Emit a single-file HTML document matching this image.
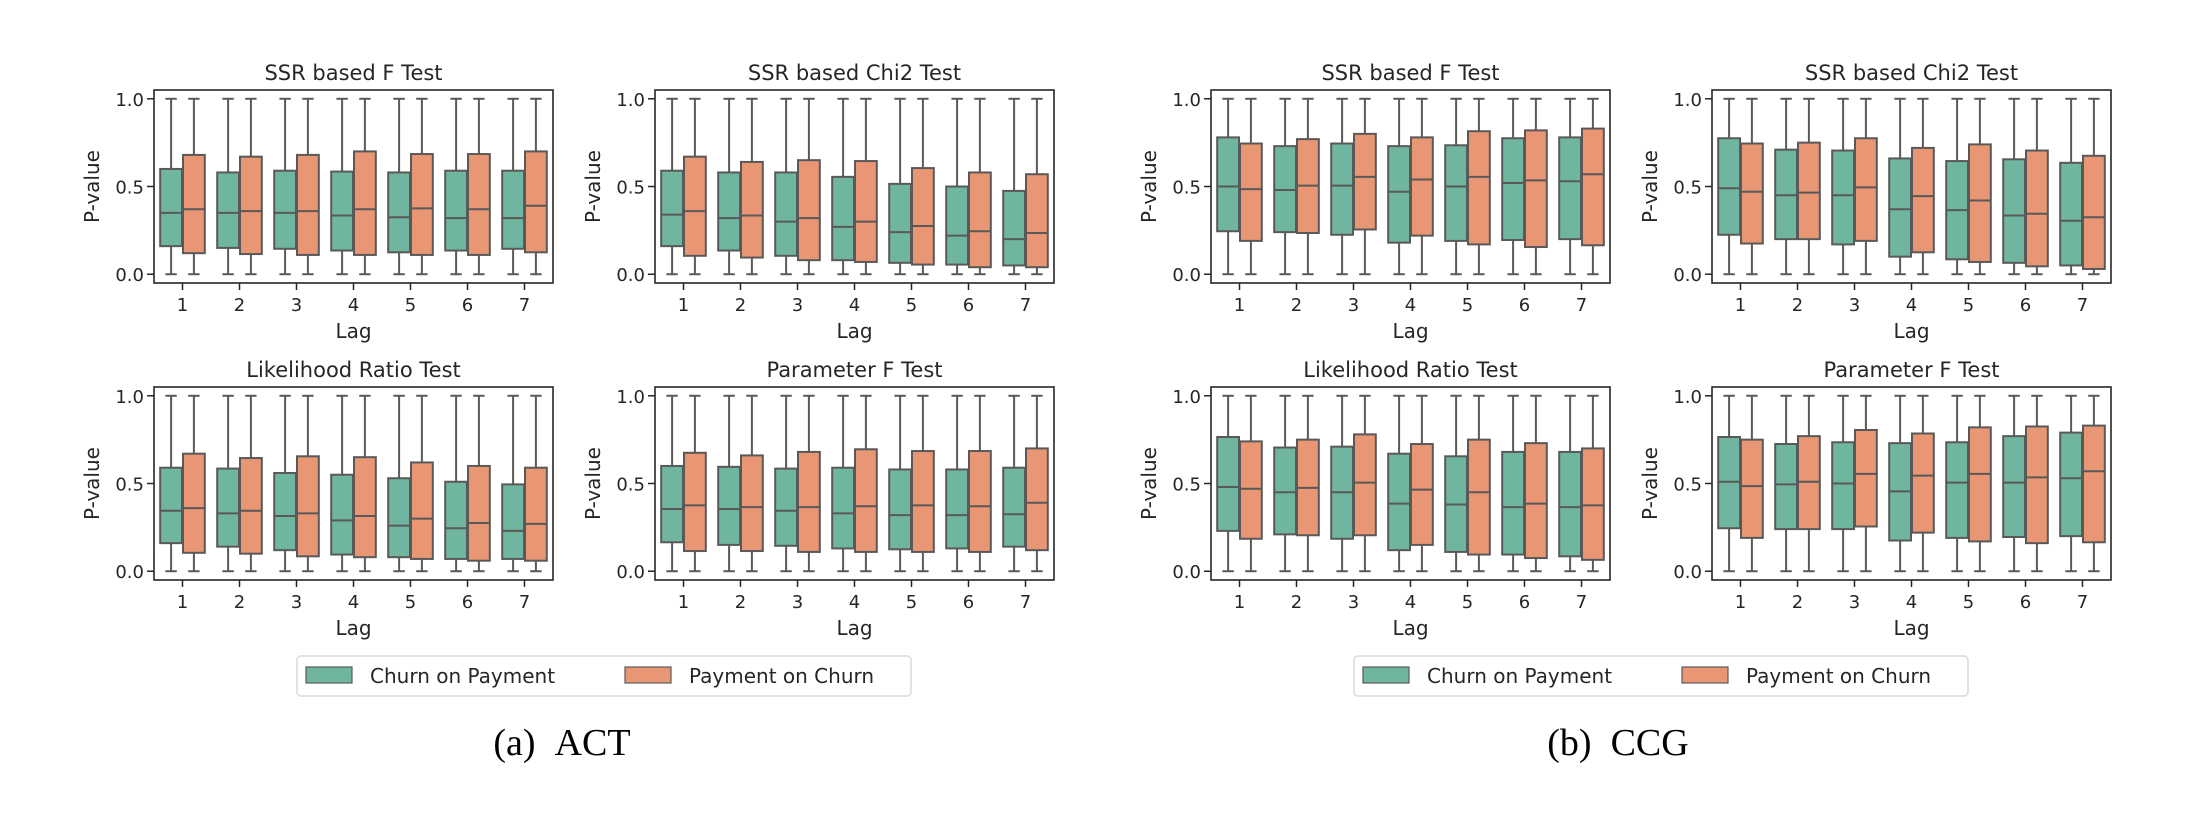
<!DOCTYPE html>
<html><head><meta charset="utf-8"><style>
html,body{margin:0;padding:0;background:#fff;}
svg{display:block;}
text{font-family:"DejaVu Sans","Liberation Sans",sans-serif;fill:#262626;}
</style></head>
<body>
<svg id="chart" width="2190" height="824" viewBox="0 0 2190 824" xmlns="http://www.w3.org/2000/svg"></svg>
<script>
const lags = ["1","2","3","4","5","6","7"];
const yTicks = [0, 0.5, 1.0];
const yTickLabels = ["0.0","0.5","1.0"];
const seriesNames = ["Churn on Payment","Payment on Churn"];
const panelTitles = ["SSR based F Test","SSR based Chi2 Test","Likelihood Ratio Test","Parameter F Test"];
const captions = ["(a)\u00a0\u00a0ACT","(b)\u00a0\u00a0CCG"];

const actF_G_q1 = [.16,.15,.145,.135,.125,.135,.145];
const actF_G_med = [.35,.35,.35,.335,.325,.32,.32];
const actF_G_q3 = [.60,.58,.59,.585,.58,.59,.59];
const actF_O_q1 = [.12,.115,.11,.11,.11,.11,.125];
const actF_O_med = [.37,.36,.36,.37,.375,.37,.39];
const actF_O_q3 = [.68,.67,.68,.70,.685,.685,.70];

const actC_G_q1 = [.16,.135,.105,.08,.065,.055,.05];
const actC_G_med = [.34,.32,.30,.27,.24,.22,.20];
const actC_G_q3 = [.59,.58,.58,.555,.515,.50,.475];
const actC_O_q1 = [.105,.095,.08,.07,.055,.04,.04];
const actC_O_med = [.36,.335,.32,.30,.275,.245,.235];
const actC_O_q3 = [.67,.64,.65,.645,.605,.58,.57];

const actL_G_q1 = [.16,.14,.12,.095,.08,.07,.07];
const actL_G_med = [.345,.33,.315,.29,.26,.245,.23];
const actL_G_q3 = [.59,.585,.56,.55,.53,.51,.495];
const actL_O_q1 = [.105,.10,.085,.08,.07,.06,.06];
const actL_O_med = [.36,.345,.33,.315,.30,.275,.27];
const actL_O_q3 = [.67,.645,.655,.65,.62,.60,.59];

const actP_G_q1 = [.165,.15,.145,.13,.125,.13,.14];
const actP_G_med = [.355,.355,.345,.33,.32,.32,.325];
const actP_G_q3 = [.60,.595,.585,.59,.58,.58,.59];
const actP_O_q1 = [.115,.115,.11,.11,.11,.11,.12];
const actP_O_med = [.375,.365,.365,.37,.375,.37,.39];
const actP_O_q3 = [.675,.66,.68,.695,.685,.685,.70];

const ccgF_G_q1 = [.245,.24,.225,.18,.19,.195,.20];
const ccgF_G_med = [.50,.48,.505,.47,.50,.52,.53];
const ccgF_G_q3 = [.78,.73,.745,.73,.735,.775,.78];
const ccgF_O_q1 = [.19,.235,.255,.22,.17,.155,.165];
const ccgF_O_med = [.485,.505,.555,.54,.555,.535,.57];
const ccgF_O_q3 = [.745,.77,.80,.78,.815,.82,.83];

const ccgC_G_q1 = [.225,.20,.17,.10,.085,.065,.05];
const ccgC_G_med = [.49,.45,.45,.37,.365,.335,.305];
const ccgC_G_q3 = [.775,.71,.705,.66,.645,.655,.635];
const ccgC_O_q1 = [.175,.20,.19,.125,.07,.045,.03];
const ccgC_O_med = [.47,.465,.495,.445,.42,.345,.325];
const ccgC_O_q3 = [.745,.75,.775,.72,.74,.705,.675];

const ccgL_G_q1 = [.23,.21,.185,.12,.11,.095,.085];
const ccgL_G_med = [.48,.45,.45,.385,.38,.365,.365];
const ccgL_G_q3 = [.765,.705,.71,.67,.655,.68,.68];
const ccgL_O_q1 = [.185,.205,.205,.15,.095,.075,.065];
const ccgL_O_med = [.47,.475,.505,.465,.45,.385,.375];
const ccgL_O_q3 = [.74,.75,.78,.725,.75,.73,.70];

const ccgP_G_q1 = [.245,.24,.24,.175,.19,.195,.20];
const ccgP_G_med = [.51,.495,.50,.455,.505,.505,.53];
const ccgP_G_q3 = [.765,.725,.735,.73,.735,.77,.79];
const ccgP_O_q1 = [.19,.24,.255,.22,.17,.16,.165];
const ccgP_O_med = [.485,.51,.555,.545,.555,.535,.57];
const ccgP_O_q3 = [.75,.77,.805,.785,.82,.825,.83];

const whiskLow = [0,0,0,0,0,0,0];
const whiskHigh = [1,1,1,1,1,1,1];

const panels = [
 [actF_G_q1,actF_G_med,actF_G_q3,actF_O_q1,actF_O_med,actF_O_q3],
 [actC_G_q1,actC_G_med,actC_G_q3,actC_O_q1,actC_O_med,actC_O_q3],
 [actL_G_q1,actL_G_med,actL_G_q3,actL_O_q1,actL_O_med,actL_O_q3],
 [actP_G_q1,actP_G_med,actP_G_q3,actP_O_q1,actP_O_med,actP_O_q3],
 [ccgF_G_q1,ccgF_G_med,ccgF_G_q3,ccgF_O_q1,ccgF_O_med,ccgF_O_q3],
 [ccgC_G_q1,ccgC_G_med,ccgC_G_q3,ccgC_O_q1,ccgC_O_med,ccgC_O_q3],
 [ccgL_G_q1,ccgL_G_med,ccgL_G_q3,ccgL_O_q1,ccgL_O_med,ccgL_O_q3],
 [ccgP_G_q1,ccgP_G_med,ccgP_G_q3,ccgP_O_q1,ccgP_O_med,ccgP_O_q3]
];

const NS="http://www.w3.org/2000/svg";
const svg=document.getElementById('chart');
const GREEN="#70b59f", ORANGE="#e99674", LINE="#595959";
function mk(tag,attrs,parent){const e=document.createElementNS(NS,tag);for(const k in attrs)e.setAttribute(k,attrs[k]);(parent||svg).appendChild(e);return e;}

const AW=399, AH=193;
const colX=[154,655,1211,1712];
const rowTop=[90,387];
function panelPos(i){const fig=Math.floor(i/4), k=i%4; return {x:colX[fig*2+(k%2)], y:rowTop[Math.floor(k/2)], title:panelTitles[k]};}

panels.forEach((d,i)=>{
  const p=panelPos(i);
  const g=mk('g',{});
  
  
  const yS=v=>p.y+AH-((v+0.05)/1.1)*AH;
  const step=AW/lags.length;
  const xS=j=>p.x+step*(j+0.5);
  const t=mk('text',{x:p.x+AW/2,y:p.y-10,'font-size':21,'text-anchor':'middle'},g);
  t.textContent=p.title;
  
  
  yTicks.forEach((v,k)=>{
    mk('line',{x1:p.x-7,x2:p.x,y1:yS(v),y2:yS(v),stroke:'#262626','stroke-width':1.5},g);
    const tl=mk('text',{x:p.x-10,y:yS(v)+7,'font-size':18,'text-anchor':'end'},g);
    tl.textContent=yTickLabels[k];
    
    
  });
  const yl=mk('text',{x:0,y:0,'font-size':20,'text-anchor':'middle',transform:`translate(${p.x-55},${p.y+AH/2}) rotate(-90)`},g);
  yl.textContent='P-value';
  
  
  lags.forEach((lab,j)=>{
    mk('line',{x1:xS(j),x2:xS(j),y1:p.y+AH,y2:p.y+AH+7,stroke:'#262626','stroke-width':1.5},g);
    const xl=mk('text',{x:xS(j),y:p.y+AH+28,'font-size':18,'text-anchor':'middle'},g);
    xl.textContent=lab;
    
    
    [0,1].forEach(s=>{
      const q1=d[s*3][j], med=d[s*3+1][j], q3=d[s*3+2][j];
      const bw=step*0.8/2;
      const bx=xS(j)-step*0.4+s*bw;
      const cx=bx+bw/2;
      const wg=mk('g',{},g);
      
      
      mk('line',{x1:cx,x2:cx,y1:yS(q3),y2:yS(whiskHigh[j]),stroke:LINE,'stroke-width':2},wg);
      mk('line',{x1:cx,x2:cx,y1:yS(q1),y2:yS(whiskLow[j]),stroke:LINE,'stroke-width':2},wg);
      mk('line',{x1:cx-bw/4,x2:cx+bw/4,y1:yS(whiskHigh[j]),y2:yS(whiskHigh[j]),stroke:LINE,'stroke-width':2},wg);
      mk('line',{x1:cx-bw/4,x2:cx+bw/4,y1:yS(whiskLow[j]),y2:yS(whiskLow[j]),stroke:LINE,'stroke-width':2},wg);
      mk('rect',{x:bx+0.5,y:yS(q3),width:bw-1,height:yS(q1)-yS(q3),fill:s?ORANGE:GREEN,stroke:LINE,'stroke-width':2},wg);
      mk('line',{x1:bx+0.5,x2:bx+bw-0.5,y1:yS(med),y2:yS(med),stroke:LINE,'stroke-width':2},wg);
    });
  });
  mk('rect',{x:p.x,y:p.y,width:AW,height:AH,fill:'none',stroke:'#262626','stroke-width':1.6},g);
  const xt=mk('text',{x:p.x+AW/2,y:p.y+AH+55,'font-size':20,'text-anchor':'middle'},g);
  xt.textContent='Lag';
  
  
});

[0,1].forEach(f=>{
  const lx=297+f*1057;
  const lg=mk('g',{});
  
  
  mk('rect',{x:lx,y:656,width:614,height:40,rx:4,fill:'#fff',stroke:'#d9d9d9','stroke-width':1.5},lg);
  [0,1].forEach(s=>{
    const px=lx+9+s*319;
    const e=mk('g',{},lg);
    
    
    mk('rect',{x:px,y:667,width:46,height:16,fill:s?ORANGE:GREEN,stroke:LINE,'stroke-width':1.2},e);
    const tx=mk('text',{x:px+64,y:683,'font-size':20},e);
    tx.textContent=seriesNames[s];
  });
  const c=mk('text',{x:f?1618:562,y:755,'font-size':38,'text-anchor':'middle',style:'font-family:"Liberation Serif",serif;fill:#000'});
  c.textContent=captions[f];
  
  
});
</script>
</body></html>
